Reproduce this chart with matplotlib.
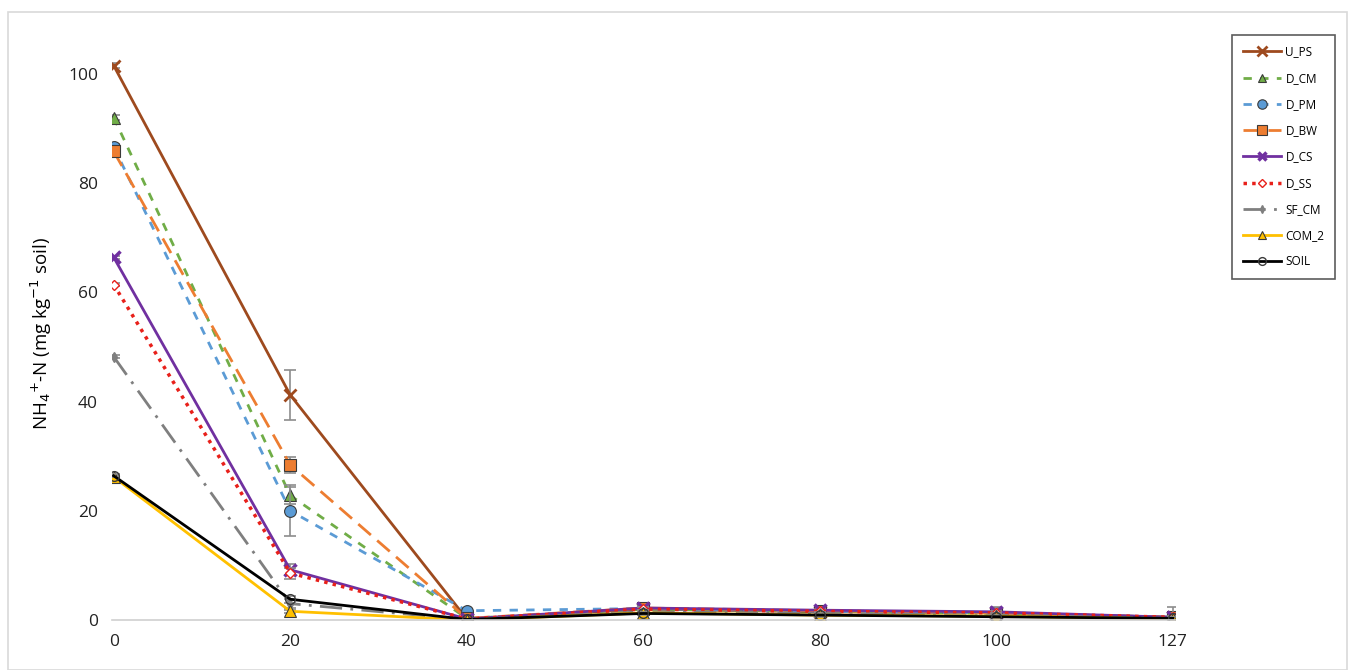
import matplotlib.pyplot as plt
import numpy as np

plt.rcParams['font.family'] = ['Open Sans', 'DejaVu Sans']

days = ["0", "20", "40", "60", "80", "100", "127"]

u_ps = [101.5, 41.2, 0.2, 2.0, 1.5, 1.3, 0.5]
d_cm = [92.0, 22.8, 0.3, 2.0, 1.6, 1.2, 0.5]
d_pm = [86.6, 20.0, 1.7, 2.1, 1.6, 1.3, 0.5]
d_bw = [85.8, 28.4, 0.3, 2.2, 1.7, 1.3, 0.5]
d_cs = [66.4, 9.2, 0.2, 2.2, 1.8, 1.5, 0.5]
d_ss = [61.4, 8.6, 0.2, 2.0, 1.6, 1.3, 0.5]
sf_cm = [48.2, 3.0, 0.1, 1.5, 1.2, 0.9, 0.3]
com_2 = [26.2, 1.6, 0.0, 1.3, 0.9, 0.7, 0.2]
soil = [26.4, 3.8, 0.1, 1.2, 0.9, 0.6, 0.3]

u_ps_err = [0.5, 4.6, 0.2, 0.4, 0.4, 0.8, 0.6]
d_cm_err = [0.5, 1.6, 0.2, 0.3, 0.3, 0.4, 0.3]
d_pm_err = [0.5, 4.7, 0.3, 0.3, 0.3, 0.4, 0.3]
d_bw_err = [0.5, 1.5, 0.2, 0.3, 0.3, 0.4, 0.3]
d_cs_err = [0.3, 1.0, 0.2, 0.3, 0.3, 0.8, 1.8]
d_ss_err = [0.3, 1.0, 0.2, 0.3, 0.3, 0.4, 0.3]
sf_cm_err = [0.3, 0.8, 0.1, 0.3, 0.3, 0.3, 0.3]
com_2_err = [0.3, 0.3, 0.1, 0.3, 0.3, 0.3, 0.3]
soil_err = [0.3, 0.6, 0.1, 0.3, 0.3, 0.3, 0.3]

x = np.arange(len(days))

fig = plt.figure(figsize=(13.52, 6.70), dpi=100)
# thin frame round the whole chart
fig.patches.append(plt.Rectangle((0.006, 0.0), 0.99, 0.982, transform=fig.transFigure,
                                 fill=False, edgecolor='#d9d9d9', linewidth=1.2))
ax = fig.add_axes([0.0828, 0.0746, 0.786, 0.856])

series = [
    ("U_PS", u_ps, u_ps_err, dict(color='#9E4A1E', linestyle='-', marker='x', ms=9, mew=2, lw=2)),
    ("D_CM", d_cm, d_cm_err, dict(color='#70AD47', linestyle=(0, (3, 3)), marker='^', ms=8, mec='#3a3a3a', mew=0.8, lw=2)),
    ("D_PM", d_pm, d_pm_err, dict(color='#5B9BD5', linestyle=(0, (3, 3)), marker='o', ms=8.5, mec='#3a3a3a', mew=0.8, lw=2)),
    ("D_BW", d_bw, d_bw_err, dict(color='#ED7D31', linestyle=(0, (6, 3)), marker='s', ms=8.5, mec='#3a3a3a', mew=0.8, lw=2)),
    ("D_CS", d_cs, d_cs_err, dict(color='#7030A0', linestyle='-', marker='x', ms=8, mew=2.5, lw=2)),
    ("D_SS", d_ss, d_ss_err, dict(color='#E8201A', linestyle=(0, (1, 1.5)), marker='D', ms=5.5, mfc='white', mec='#E8201A', mew=1, lw=2.5)),
    ("SF_CM", sf_cm, sf_cm_err, dict(color='#7F7F7F', linestyle=(0, (8, 3, 1, 3)), marker='d', ms=5, lw=2)),
    ("COM_2", com_2, com_2_err, dict(color='#FFC000', linestyle='-', marker='^', ms=8, mec='#3a3a3a', mew=0.8, lw=2)),
    ("SOIL", soil, soil_err, dict(color='#000000', linestyle='-', marker='o', ms=7, mfc='none', mec='#3a3a3a', mew=1, lw=2)),
]

handles = []
for name, vals, errs, style in series:
    ax.errorbar(x, vals, yerr=errs, fmt='none', ecolor='#8c8c8c', elinewidth=1.2,
                capsize=4, capthick=1.2)
    line, = ax.plot(x, vals, label=name, **style)
    handles.append(line)

ax.set_xlim(-0.01, 6.01)
ax.set_ylim(0, 105)
ax.set_xticks(x)
ax.set_xticklabels(days)
ax.set_yticks([0, 20, 40, 60, 80, 100])
ax.tick_params(axis='both', length=0, labelsize=12.5, colors='#222222', pad=10)
for s in ['top', 'right', 'left']:
    ax.spines[s].set_visible(False)
ax.spines['bottom'].set_color('#d0d0d0')
ax.spines['bottom'].set_linewidth(1.2)
ax.set_ylabel("NH$_4$$^{+}$-N (mg kg$^{-1}$ soil)", fontsize=13.5, labelpad=10)

leg = fig.legend(handles=handles, loc='upper right', bbox_to_anchor=(1341 / 1352, 1 - 29 / 670),
                 fontsize=8.5, frameon=True, fancybox=False, edgecolor='#333333',
                 handlelength=3.2, handletextpad=0.4, labelspacing=1.12, borderpad=0.9,
                 markerscale=0.8)
leg.get_frame().set_linewidth(1.2)

fig.savefig("out.png", dpi=100)
